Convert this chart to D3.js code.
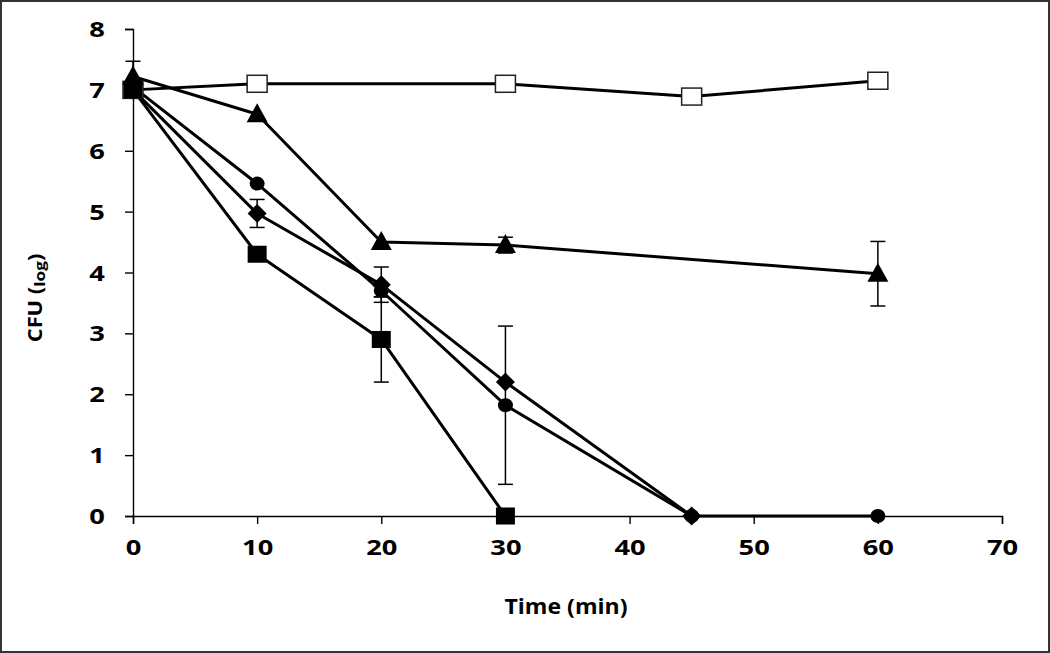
<!DOCTYPE html>
<html>
<head>
<meta charset="utf-8">
<script src="https://cdn.jsdelivr.net/npm/d3@7"></script>
<style>
    body { margin: 0; background: #fff; }
    svg text { font-family: "Open Sans", "DejaVu Sans", sans-serif; font-weight: bold; fill: #000; }
</style>
</head>
<body>
<div id="chart-container"></div>
<script>
// time points (min) and log CFU values
const openSquareTime = [0, 10, 30, 45, 60];
const openSquareCfu = [7.0, 7.1, 7.1, 6.89, 7.15];

const squareTime = [0, 10, 20, 30];
const squareCfu = [7.0, 4.3, 2.9, 0];
const squareErr = [0, 0, 0.7, 0];

const diamondTime = [0, 10, 20, 30, 45];
const diamondCfu = [7.0, 4.97, 3.8, 2.2, 0];
const diamondErr = [0, 0.23, 0.29, 0, 0];

const circleTime = [0, 10, 20, 30, 45, 60];
const circleCfu = [7.05, 5.46, 3.7, 1.82, 0, 0];
const circleErr = [0, 0, 0.1, 1.3, 0, 0];

const triangleTime = [0, 10, 20, 30, 60];
const triangleCfu = [7.22, 6.6, 4.5, 4.45, 3.98];
const triangleErr = [0.25, 0, 0, 0.13, 0.53];

const xTicks = [0, 10, 20, 30, 40, 50, 60, 70];
const yTicks = [0, 1, 2, 3, 4, 5, 6, 7, 8];

const width = 1050;
const height = 653;
const margin = { top: 29, right: 48, bottom: 137, left: 133 };

const svg = d3.select('#chart-container')
    .append('svg')
    .attr('width', width)
    .attr('height', height);

// outer frame
svg.append('rect')
    .attr('x', 1).attr('y', 1)
    .attr('width', width - 2).attr('height', height - 2)
    .attr('fill', '#fff')
    .attr('stroke', '#333')
    .attr('stroke-width', 2);

const x = d3.scaleLinear().domain([0, 70]).range([margin.left, width - margin.right]);
const y = d3.scaleLinear().domain([0, 8]).range([height - margin.bottom, margin.top]);

const xAxis = svg.append('g')
    .attr('transform', `translate(0,${y(0)})`)
    .call(d3.axisBottom(x).tickValues(xTicks).tickSize(8).tickPadding(24));
const yAxis = svg.append('g')
    .attr('transform', `translate(${x(0)},0)`)
    .call(d3.axisLeft(y).tickValues(yTicks).tickSize(8));

[xAxis, yAxis].forEach((g) => {
    g.select('.domain').attr('stroke', '#000').attr('stroke-width', 1.4);
    g.selectAll('.tick line').attr('stroke', '#000').attr('stroke-width', 1.4);
    g.selectAll('.tick text').attr('font-size', 21);
});
// the original figure is stretched sideways, so widen the labels a little
xAxis.selectAll('.tick text')
    .attr('y', 0)
    .attr('transform', 'translate(0,24) scale(1.3,1)');
yAxis.selectAll('.tick text')
    .attr('x', 0)
    .attr('text-anchor', 'middle')
    .attr('dy', '0.36em')
    .attr('transform', 'translate(-36,0) scale(1.3,1)');

// axis titles
svg.append('text')
    .attr('x', 566).attr('y', 614)
    .attr('text-anchor', 'middle')
    .attr('font-size', 21)
    .attr('textLength', 123)
    .attr('lengthAdjust', 'spacingAndGlyphs')
    .text('Time (min)');

const yTitle = svg.append('text')
    .attr('transform', 'translate(42,298) rotate(-90) scale(1.15,1)')
    .attr('text-anchor', 'middle')
    .attr('font-size', 19);
yTitle.append('tspan').text('CFU (');
yTitle.append('tspan').attr('font-size', 15).attr('dy', 3).text('log');
yTitle.append('tspan').attr('dy', -3).text(')');

const line = d3.line()
    .x((d) => x(d.t))
    .y((d) => y(d.v));

function makeSeries(times, values, errs) {
    return times.map((t, i) => ({ t, v: values[i], e: errs ? errs[i] : 0 }));
}

const series = [
    { name: 'openSquare', data: makeSeries(openSquareTime, openSquareCfu) },
    { name: 'square', data: makeSeries(squareTime, squareCfu, squareErr) },
    { name: 'diamond', data: makeSeries(diamondTime, diamondCfu, diamondErr) },
    { name: 'circle', data: makeSeries(circleTime, circleCfu, circleErr) },
    { name: 'triangle', data: makeSeries(triangleTime, triangleCfu, triangleErr) },
];

// error bars
series.forEach((s) => {
    const eb = svg.append('g').attr('stroke', '#000').attr('stroke-width', 1.5);
    s.data.filter((d) => d.e > 0).forEach((d) => {
        eb.append('line')
            .attr('x1', x(d.t)).attr('x2', x(d.t))
            .attr('y1', y(d.v - d.e)).attr('y2', y(d.v + d.e));
        [d.v - d.e, d.v + d.e].forEach((v) => {
            eb.append('line')
                .attr('x1', x(d.t) - 7.5).attr('x2', x(d.t) + 7.5)
                .attr('y1', y(v)).attr('y2', y(v));
        });
    });
});

// lines
series.forEach((s) => {
    svg.append('path')
        .datum(s.data)
        .attr('fill', 'none')
        .attr('stroke', '#000')
        .attr('stroke-width', 3)
        .attr('stroke-linejoin', 'round')
        .attr('d', line);
});

// markers
function marker(g, name, cx, cy) {
    if (name === 'openSquare') {
        g.append('rect')
            .attr('x', cx - 10).attr('y', cy - 8.5).attr('width', 20).attr('height', 17)
            .attr('fill', '#fff').attr('stroke', '#222').attr('stroke-width', 1.5);
    } else if (name === 'square') {
        g.append('rect')
            .attr('x', cx - 9.5).attr('y', cy - 8.5).attr('width', 19).attr('height', 17)
            .attr('fill', '#000');
    } else if (name === 'diamond') {
        g.append('path')
            .attr('d', `M${cx},${cy - 9.5}L${cx + 9.5},${cy}L${cx},${cy + 9.5}L${cx - 9.5},${cy}Z`)
            .attr('fill', '#000');
    } else if (name === 'circle') {
        g.append('ellipse')
            .attr('cx', cx).attr('cy', cy).attr('rx', 7.5).attr('ry', 7)
            .attr('fill', '#000');
    } else if (name === 'triangle') {
        g.append('path')
            .attr('d', `M${cx},${cy - 11}L${cx + 10.5},${cy + 8}L${cx - 10.5},${cy + 8}Z`)
            .attr('fill', '#000');
    }
}

series.forEach((s) => {
    const g = svg.append('g');
    s.data.forEach((d) => marker(g, s.name, x(d.t), y(d.v)));
});
</script>
</body>
</html>
